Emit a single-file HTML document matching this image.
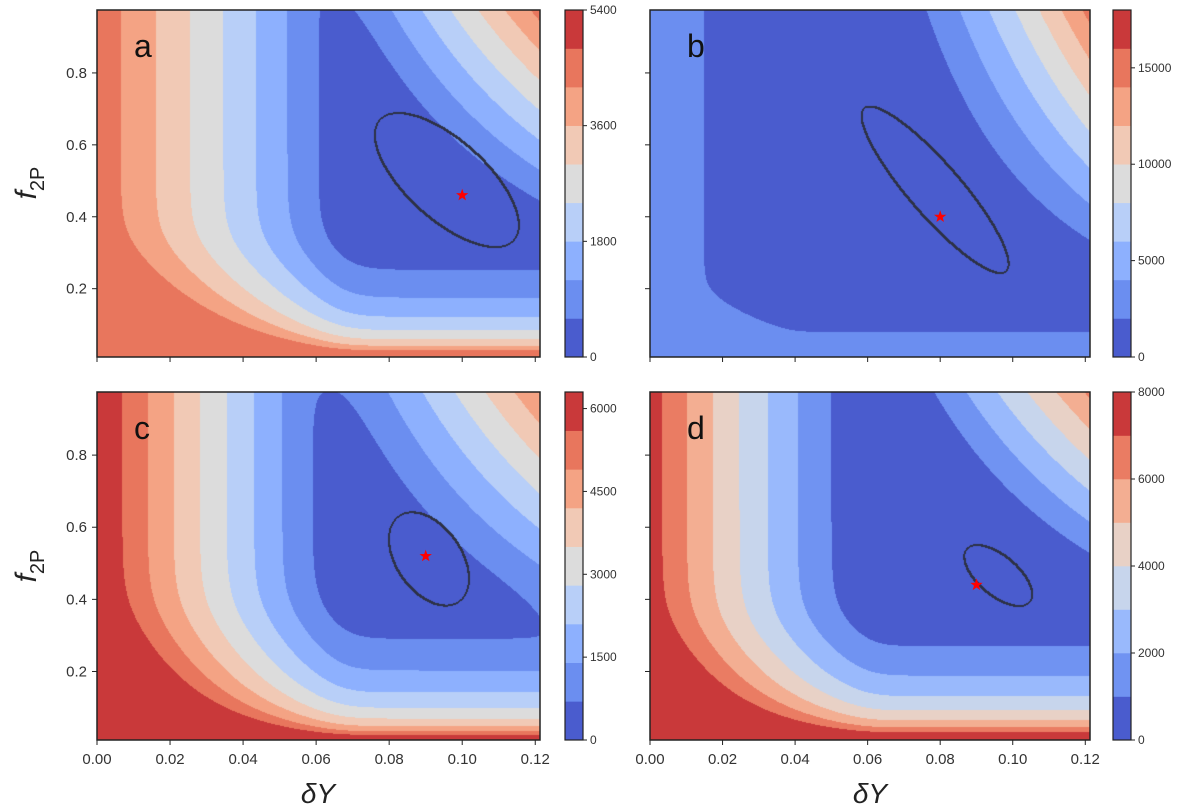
<!DOCTYPE html>
<html><head><meta charset="utf-8">
<style>
html,body{margin:0;padding:0;background:#fff;}
#wrap{position:relative;width:1200px;height:812px;overflow:hidden;font-family:"Liberation Sans",sans-serif;}
canvas{position:absolute;}
svg{position:absolute;left:0;top:0;}
</style></head>
<body>
<div id="wrap">
<svg id="ov" width="1200" height="812"></svg>
</div>
<script>
// ---- data ----
const panelLetters = ["a","b","c","d"];
const starX = [0.10, 0.08, 0.09, 0.09];
const starY = [0.46, 0.40, 0.52, 0.44];
const vMax = [5400, 18000, 6300, 8000];
const nBands = [9, 9, 9, 8];
// left (small dY) wall
const ampU = [4600, 3200, 6300, 7500];
const cutU = [0.56, 0.33, 0.567, 0.52];
const powU = [0.9, 1.0, 1.1, 1.25];
// bottom (small f2P) wall
const ampW = [1650, 2180, 1960, 2790];
const cutW = [0.362, 0.2, 0.414, 0.386];
const lowCap = [4700, 3900, 99999, 99999];
// upper-right rise
const ampH = [7130, 19450, 7100, 11500];
const cutH = [0.37, 0.24, 0.31, 0.45];
const expH = [1.5, 2.3, 1.6, 1.4];
// confidence-region ellipse
const ellX = [0.0958, 0.0786, 0.0909, 0.096];
const ellY = [0.502, 0.475, 0.512, 0.466];
const ellA = [0.25, 0.30, 0.145, 0.114];
const ellB = [0.11, 0.072, 0.09, 0.055];
const ellAng = [42, 49, 55, 40];
const contourLevel = [300, 1000, 350, 500];
const cbTicks = [[0,1800,3600,5400],[0,5000,10000,15000],[0,1500,3000,4500,6000],[0,2000,4000,6000,8000]];
const xTicks = [0.00,0.02,0.04,0.06,0.08,0.10,0.12];
const yTicks = [0.2,0.4,0.6,0.8];
const xDomain = [0, 0.1213];
const yDomain = [0.01, 0.975];

// ---- layout ----
const boxes = [
  {l:97,t:10,w:443,h:347,cb:565},
  {l:650,t:10,w:440,h:347,cb:1113},
  {l:97,t:392,w:443,h:348,cb:565},
  {l:650,t:392,w:440,h:348,cb:1113}
];
const anchors = [[74,92,206],[107,142,240],[141,176,254],[184,207,248],[220,220,220],[241,201,181],[244,163,132],[232,118,93],[201,57,58]];
function cmap(f){
  const p=Math.max(0,Math.min(1,f))*(anchors.length-1);
  const i=Math.min(anchors.length-2,Math.floor(p)), r=p-i;
  return anchors[i].map((c,k)=>Math.round(c+(anchors[i+1][k]-c)*r));
}
function softpos(z,s){return z/s>30?z:s*Math.log(1+Math.exp(z/s));}
function ellipseVal(k,x,y,pxX,pxY){
  const dxp=(x-ellX[k])*pxX/360, dyp=(ellY[k]-y)*pxY/360;
  const an=ellAng[k]*Math.PI/180;
  const al=(dxp*Math.cos(an)+dyp*Math.sin(an))/ellA[k];
  const ac=(-dxp*Math.sin(an)+dyp*Math.cos(an))/ellB[k];
  return contourLevel[k]*(al*al+ac*ac);
}
function field(k,x,y,pxX,pxY){
  const u=Math.max(x/0.12,0), w=Math.max(y,0.005);
  const Fu=ampU[k]*Math.pow(softpos(1-u/cutU[k],0.05),powU[k]);
  const Gw=ampW[k]*softpos(Math.log(cutW[k]/w),0.1);
  const low=Fu+Gw;
  const Hp=Math.pow(u,expH[k])*w;
  const H=ampH[k]*softpos(Hp-cutH[k],0.015);
  const v=Math.min(lowCap[k],low)+H;
  const step=vMax[k]/nBands[k];
  const E=Math.min(0.95*step, ellipseVal(k,x,y,pxX,pxY));
  return Math.max(v,E);
}
const NS="http://www.w3.org/2000/svg";
const ov=document.getElementById('ov');
function mk(tag,attrs,txt){const e=document.createElementNS(NS,tag);for(const a in attrs)e.setAttribute(a,attrs[a]);if(txt!==undefined)e.textContent=txt;ov.appendChild(e);return e;}

boxes.forEach((b,k)=>{
  const sx=x=>b.l+(x-xDomain[0])/(xDomain[1]-xDomain[0])*b.w;
  const sy=y=>b.t+b.h-(y-yDomain[0])/(yDomain[1]-yDomain[0])*b.h;
  const pxX=b.w/(xDomain[1]-xDomain[0]), pxY=b.h/(yDomain[1]-yDomain[0]);
  const cv=document.createElement('canvas');
  cv.width=b.w;cv.height=b.h;cv.style.left=b.l+'px';cv.style.top=b.t+'px';
  
  
  document.getElementById('wrap').insertBefore(cv,ov);
  const ctx=cv.getContext('2d');const img=ctx.createImageData(b.w,b.h);
  const step=vMax[k]/nBands[k];
  const inside=new Uint8Array(b.w*b.h);
  const cols=[];for(let i=0;i<nBands[k];i++)cols.push(cmap(i/(nBands[k]-1)));
  for(let j=0;j<b.h;j++)for(let i=0;i<b.w;i++){
    const x=xDomain[0]+(i+0.5)/b.w*(xDomain[1]-xDomain[0]);
    const y=yDomain[1]-(j+0.5)/b.h*(yDomain[1]-yDomain[0]);
    const v=field(k,x,y,pxX,pxY);
    const bi=Math.min(nBands[k]-1,Math.floor(v/step));
    const c=cols[bi];const o=(j*b.w+i)*4;
    img.data[o]=c[0];img.data[o+1]=c[1];img.data[o+2]=c[2];img.data[o+3]=255;
    inside[j*b.w+i]=ellipseVal(k,x,y,pxX,pxY)<contourLevel[k]?1:0;
  }
  for(let j=0;j<b.h-1;j++)for(let i=0;i<b.w-1;i++){
    const a=inside[j*b.w+i];
    if(a!==inside[j*b.w+i+1]||a!==inside[(j+1)*b.w+i]){
      for(const [di,dj] of [[0,0],[1,0],[0,1]]){const o=((j+dj)*b.w+i+di)*4;img.data[o]=45;img.data[o+1]=50;img.data[o+2]=70;}
    }
  }
  ctx.putImageData(img,0,0);
  const fr=mk('rect',{x:b.l,y:b.t,width:b.w,height:b.h,fill:'none',stroke:'#222','stroke-width':1.5});
  
  
  const sxp=sx(starX[k]), syp=sy(starY[k]);
  let pts=[];for(let q=0;q<10;q++){const rr=q%2?2.6:6.5;const an=-Math.PI/2+q*Math.PI/5;pts.push((sxp+rr*Math.cos(an)).toFixed(1)+','+(syp+rr*Math.sin(an)).toFixed(1));}
  const st=mk('polygon',{points:pts.join(' '),fill:'#f00'});
  
  
  const lt=mk('text',{x:b.l+37,y:b.t+47,'font-size':32,fill:'#111'},panelLetters[k]);
  
  
  xTicks.forEach(xv=>{
    const X=sx(xv);
    const tk=mk('line',{x1:X,x2:X,y1:b.t+b.h,y2:b.t+b.h+5,stroke:'#222'});
    
    
    if(k>=2){const tl=mk('text',{x:X,y:b.t+b.h+24,'font-size':15,'text-anchor':'middle',fill:'#333'},xv.toFixed(2));
      
      }
  });
  yTicks.forEach(yv=>{
    const Y=sy(yv);
    const tk=mk('line',{x1:b.l-5,x2:b.l,y1:Y,y2:Y,stroke:'#222'});
    
    
    if(k%2===0){const tl=mk('text',{x:b.l-10,y:Y+5,'font-size':15,'text-anchor':'end',fill:'#333'},yv.toFixed(1));
      
      }
  });
  const cbw=18;
  for(let i=0;i<nBands[k];i++){
    const c=cols[i];const hh=b.h/nBands[k];
    const r=mk('rect',{x:b.cb,y:b.t+b.h-(i+1)*hh,width:cbw,height:hh+0.3,fill:'rgb('+c.join(',')+')'});
    
    
  }
  const cf=mk('rect',{x:b.cb,y:b.t,width:cbw,height:b.h,fill:'none',stroke:'#222','stroke-width':1.2});
  
  
  cbTicks[k].forEach(tv=>{
    const Y=b.t+b.h-tv/vMax[k]*b.h;
    const tk=mk('line',{x1:b.cb+cbw,x2:b.cb+cbw+4,y1:Y,y2:Y,stroke:'#222'});
    
    
    const tl=mk('text',{x:b.cb+cbw+7,y:Y+4,'font-size':12,fill:'#333'},String(tv));
    
    
  });
});
[[318,'δY'],[870,'δY']].forEach(([x,t])=>{
  const e=mk('text',{x:x,y:803,'font-size':28,'font-style':'italic','text-anchor':'middle',fill:'#222'},t);
  
  
});
[183,566].forEach(y=>{
  const g=mk('text',{transform:'translate(36,'+y+') rotate(-90)','font-size':30,'text-anchor':'middle',fill:'#222'});
  
  
  const a=document.createElementNS(NS,'tspan');a.setAttribute('font-style','italic');a.textContent='f';g.appendChild(a);
  const s=document.createElementNS(NS,'tspan');s.setAttribute('font-size',20);s.setAttribute('dy',8);s.textContent='2P';g.appendChild(s);
});
</script>
</body></html>
